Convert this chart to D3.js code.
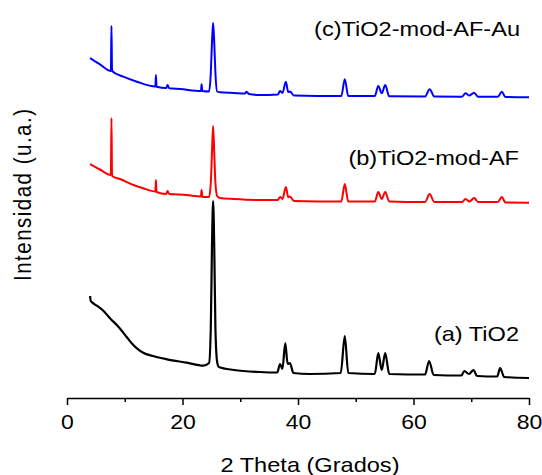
<!DOCTYPE html>
<html>
<head>
<meta charset="utf-8">
<script src="https://cdn.jsdelivr.net/npm/d3@7"></script>
<style>
  html, body { margin: 0; padding: 0; background: #fff; }
  svg { display: block; }
  text { font-family: "Liberation Sans", Arial, sans-serif; fill: #000; }
</style>
</head>
<body>
<svg id="chart" width="542" height="475"></svg>
<script>
// ---- Data (intensity in arbitrary units) ----
const thetaA = [4.0, 4.1, 4.56, 5.43, 6.29, 7.45, 8.89, 10.3, 11.2, 12.1, 13.2, 14.9, 17.3, 20.7, 23.6, 24.6, 24.9, 25.1, 25.3, 25.5, 25.7, 26.0, 26.3, 28.9, 33.4, 36.4, 36.9, 37.3, 37.8, 38.2, 38.6, 39.2, 42.0, 47.4, 48.1, 48.7, 53.3, 53.9, 54.5, 55.1, 55.8, 62.0, 62.7, 63.5, 68.3, 68.8, 69.6, 70.4, 71.0, 74.5, 75.0, 75.7, 80.0];
const intA   = [102, 97.3, 94.7, 91.3, 87.3, 79.7, 71.3, 61.3, 54.7, 49.7, 45.3, 42, 38.7, 35.3, 32.3, 35, 70, 150, 197, 150, 70, 36, 31, 28, 26, 25.5, 34, 29, 55, 34, 35, 25, 24, 25, 62, 25, 24, 45, 28, 45, 24, 23.5, 37, 23, 22.5, 27, 24, 28, 22, 21.5, 30, 21, 20];

const thetaB = [4.0, 5.7, 7.6, 7.7, 7.8, 9.4, 11.5, 13.2, 15.3, 15.4, 15.5, 17.2, 17.4, 17.7, 20.7, 23.2, 23.3, 23.45, 24.6, 24.9, 25.1, 25.3, 25.5, 25.7, 26.0, 26.5, 28.9, 33.4, 36.5, 36.9, 37.3, 37.9, 38.3, 38.6, 39.3, 47.5, 48.1, 48.7, 53.3, 53.9, 54.5, 55.1, 55.8, 62.0, 62.8, 63.6, 68.4, 69.0, 69.7, 70.5, 71.2, 74.6, 75.3, 75.9, 80.0];
const intB   = [234, 228.5, 223, 280, 222, 218.5, 213, 209.7, 206.5, 218, 206, 204, 207, 204, 203, 201.5, 208, 201, 201, 215, 245, 272, 245, 215, 202, 200, 199, 198, 198, 201, 199, 211, 201, 201.5, 197, 196.5, 214, 196.5, 196.5, 206, 199, 206, 196.5, 196, 204, 196, 196, 199, 196.5, 200, 196, 196, 201, 195.5, 195.3];

const thetaC = [4.0, 5.7, 7.6, 7.7, 7.8, 9.75, 12.1, 15.3, 15.4, 15.5, 17.2, 17.4, 17.7, 19.6, 23.2, 23.3, 23.45, 24.6, 24.9, 25.1, 25.3, 25.5, 25.7, 26.0, 26.5, 28.9, 30.8, 31.1, 31.5, 33.4, 36.5, 36.9, 37.3, 37.9, 38.3, 38.6, 39.3, 47.5, 48.1, 48.7, 53.3, 53.9, 54.5, 55.1, 55.8, 62.0, 62.8, 63.6, 68.4, 69.0, 69.7, 70.5, 71.2, 74.6, 75.3, 75.9, 80.0];
const intC   = [340, 333.7, 327, 372, 327, 321.3, 316.3, 311.5, 323, 311.3, 310, 313, 309.8, 309, 307, 313.7, 307, 306.5, 325, 355, 375.3, 355, 325, 306.5, 305.7, 305, 304.5, 306.3, 304, 303, 303.5, 307, 305, 316.3, 306, 306.5, 302.5, 302, 318.7, 302, 302, 312, 304.7, 313, 301.7, 301.5, 308.7, 301.5, 301.3, 304.7, 302.5, 305.3, 301.2, 301.2, 306.3, 301, 300.7];

const seriesNames  = ["(a) TiO2", "(b)TiO2-mod-AF", "(c)TiO2-mod-AF-Au"];
const seriesColors = ["#000000", "#ff0000", "#0000ff"];
const majorTicks = [0, 20, 40, 60, 80];
const minorTicks = [10, 30, 50, 70];
const xTitle = "2 Theta (Grados)";
const yTitle = "Intensidad (u.a.)";

// ---- Chart ----
const svg = d3.select("#chart");
const x = d3.scaleLinear().domain([0, 80]).range([67, 529]);
const y = d3.scaleLinear().domain([0, 380]).range([398, 18]);
const SX = 1.15; // horizontal stretch of the original text

const series = [
  {theta: thetaA, val: intA},
  {theta: thetaB, val: intB},
  {theta: thetaC, val: intC}
];

const line = d3.line().curve(d3.curveMonotoneX).x(d => x(d[0])).y(d => y(d[1]));

series.forEach((s, i) => {
  const pts = s.theta.map((t, k) => [t, s.val[k]]);
  svg.append("path")
    .datum(pts)
    .attr("d", line)
    .attr("fill", "none")
    .attr("stroke", seriesColors[i])
    .attr("stroke-width", i === 0 ? 2.2 : 2)
    .attr("stroke-linejoin", "round");
});

// Minor ticks
const minorAxis = d3.axisBottom(x).tickValues(minorTicks).tickSize(4).tickSizeOuter(0).tickFormat("");
const gMinor = svg.append("g").attr("transform", `translate(0,${y(0)})`).call(minorAxis);
gMinor.select(".domain").remove();
gMinor.selectAll("line").attr("stroke", "#000").attr("stroke-width", 1.5);

// Major axis
const xAxis = d3.axisBottom(x).tickValues(majorTicks).tickSize(7).tickSizeOuter(0).tickPadding(0).tickFormat(d3.format("d"));
const gx = svg.append("g").attr("transform", `translate(0,${y(0)})`).call(xAxis);
gx.select(".domain").attr("stroke", "#000").attr("stroke-width", 1.6);
gx.selectAll(".tick line").attr("stroke", "#000").attr("stroke-width", 1.5);
gx.selectAll(".tick text")
  .attr("y", 31).attr("dy", null)
  .attr("font-size", "20px")
  .attr("font-family", "Liberation Sans, Arial, sans-serif")
  .attr("fill", "#000")
  .attr("transform", `scale(${SX},1)`);

// Axis titles
svg.append("text")
  .attr("transform", `translate(310,471.5) scale(${SX},1)`)
  .attr("text-anchor", "middle")
  .attr("font-size", "20.5px")
  .text(xTitle);

svg.append("text")
  .attr("transform", `translate(31,195) scale(${SX},1) rotate(-90)`)
  .attr("text-anchor", "middle")
  .attr("font-size", "20.5px")
  .attr("textLength", 172)
  .attr("lengthAdjust", "spacing")
  .text(yTitle);

// Series labels
const labelPos = [
  {x: 519, y: 340.5},
  {x: 519, y: 165},
  {x: 520, y: 35.7}
];
seriesNames.forEach((n, i) => {
  svg.append("text")
    .attr("transform", `translate(${labelPos[i].x},${labelPos[i].y}) scale(${SX},1)`)
    .attr("text-anchor", "end")
    .attr("font-size", "20.5px")
    .text(n);
});
</script>
</body>
</html>
